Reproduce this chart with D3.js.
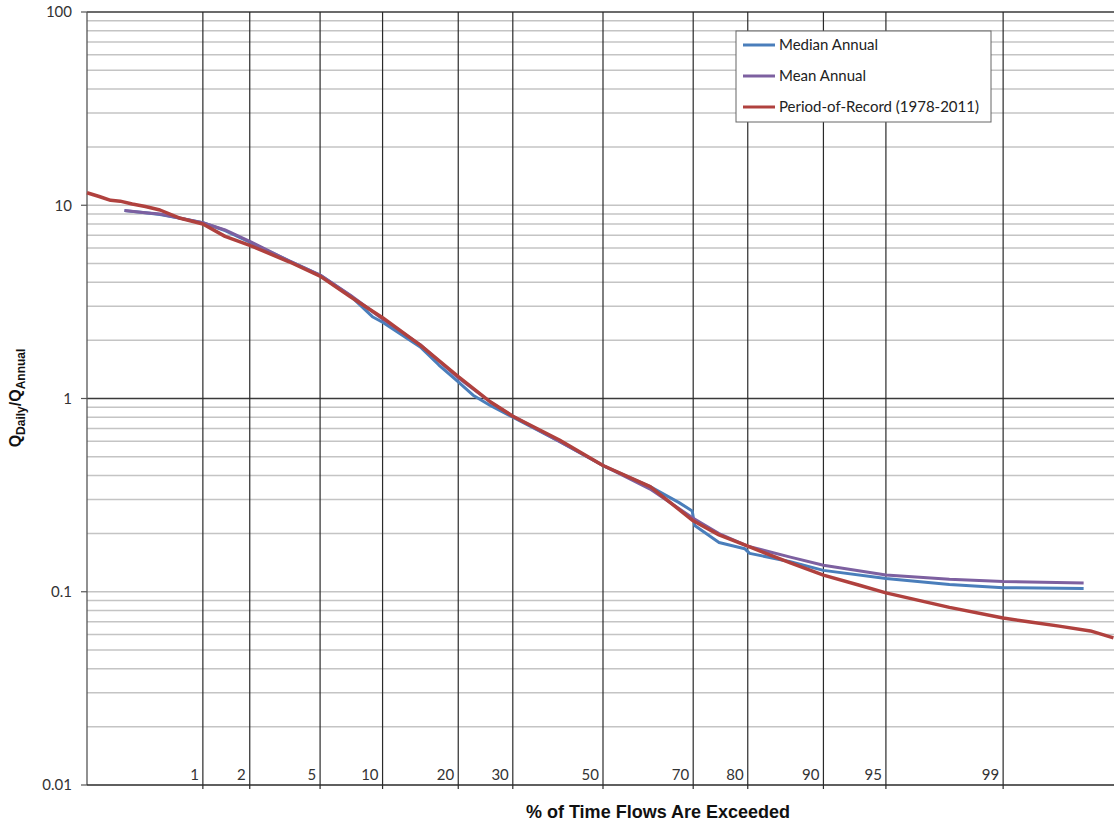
<!DOCTYPE html>
<html>
  <head>
    <meta charset="UTF-8">
    <title>Flow Duration Curve</title>
    <script src="https://d3js.org/d3.v7.min.js"></script>
    <style>
      body { margin: 0; background: #fff; }
      svg { display: block; }
      .tick-label { font-family: Lato, "Open Sans", sans-serif; font-size: 15px; fill: #333; }
      .legend-text { font-family: Lato, "Open Sans", sans-serif; font-size: 15px; fill: #222; }
      .axis-title { font-family: "Liberation Sans", Arial, sans-serif; font-weight: bold; fill: #111; }
    </style>
  </head>
  <body>
    <svg id="chart" width="1114" height="826"></svg>
    <script>
      // exceedance probability (%) and Q daily / Q annual
      const recordPct = [0.135, 0.17, 0.21, 0.25, 0.31, 0.39, 0.5, 0.7, 1, 1.4, 2, 3.4, 5, 7.1, 10, 14.4, 20, 25.6, 30, 40, 50, 60.8, 70, 75, 80, 86.2, 90, 93.2, 95, 97.8, 99, 99.35, 99.6, 99.77, 99.85];
      const recordVal = [11.6, 11.1, 10.6, 10.5, 10.15, 9.85, 9.45, 8.56, 8.0, 6.9, 6.2, 5.1, 4.3, 3.36, 2.62, 1.89, 1.30, 0.962, 0.81, 0.61, 0.45, 0.35, 0.233, 0.197, 0.172, 0.141, 0.122, 0.108, 0.0987, 0.083, 0.0731, 0.0697, 0.0664, 0.0627, 0.0577];

      const medianPct = [0.27, 0.39, 0.5, 0.7, 1, 1.4, 2, 3.4, 5, 7.1, 9, 10, 14.4, 17, 20, 22.5, 25.6, 30, 40, 50, 60.8, 67, 69.8, 70.3, 75, 79.5, 80.3, 86.2, 90, 95, 97.8, 99, 99.74];
      const medianVal = [9.38, 9.15, 8.95, 8.56, 8.12, 7.4, 6.45, 5.15, 4.35, 3.4, 2.65, 2.48, 1.85, 1.49, 1.22, 1.04, 0.92, 0.80, 0.60, 0.45, 0.35, 0.29, 0.262, 0.22, 0.18, 0.167, 0.158, 0.143, 0.129, 0.117, 0.109, 0.105, 0.104];

      const meanPct = [0.27, 0.39, 0.5, 0.7, 1, 1.4, 2, 3.4, 5, 7.1, 10, 14.4, 20, 25.6, 30, 40, 50, 60.8, 70, 75, 80, 86.2, 90, 95, 97.8, 99, 99.74];
      const meanVal = [9.4, 9.15, 9.0, 8.56, 8.12, 7.45, 6.5, 5.15, 4.35, 3.42, 2.58, 1.9, 1.28, 0.96, 0.81, 0.6, 0.45, 0.34, 0.24, 0.2, 0.172, 0.151, 0.137, 0.122, 0.116, 0.113, 0.111];

      const gridPct = [1, 2, 5, 10, 20, 30, 50, 70, 80, 90, 95, 99];
      const yTicks = [0.01, 0.1, 1, 10, 100];

      const seriesNames = ["Median Annual", "Mean Annual", "Period-of-Record (1978-2011)"];
      const seriesColors = ["#4a7ebb", "#7d60a0", "#b0413e"];

      // inverse normal CDF (Acklam) for the probability axis
      function probit(p) {
        const a = [-39.69683028665376, 220.9460984245205, -275.9285104469687, 138.3577518672690, -30.66479806614716, 2.506628277459239];
        const b = [-54.47609879822406, 161.5858368580409, -155.6989798598866, 66.80131188771972, -13.28068155288572];
        const c = [-0.007784894002430293, -0.3223964580411365, -2.400758277161838, -2.549732539343734, 4.374664141464968, 2.938163982698783];
        const d = [0.007784695709041462, 0.3224671290700398, 2.445134137142996, 3.754408661907416];
        const pl = 0.02425;
        let q, r;
        if (p < pl) {
          q = Math.sqrt(-2 * Math.log(p));
          return (((((c[0]*q+c[1])*q+c[2])*q+c[3])*q+c[4])*q+c[5]) / ((((d[0]*q+d[1])*q+d[2])*q+d[3])*q+1);
        } else if (p <= 1 - pl) {
          q = p - 0.5; r = q * q;
          return (((((a[0]*r+a[1])*r+a[2])*r+a[3])*r+a[4])*r+a[5])*q / (((((b[0]*r+b[1])*r+b[2])*r+b[3])*r+b[4])*r+1);
        }
        q = Math.sqrt(-2 * Math.log(1 - p));
        return -(((((c[0]*q+c[1])*q+c[2])*q+c[3])*q+c[4])*q+c[5]) / ((((d[0]*q+d[1])*q+d[2])*q+d[3])*q+1);
      }

      const plotLeft = 87, plotTop = 12, plotBottom = 785, plotRight = 1119;
      const z = d3.scaleLinear().domain([-3, 3]).range([plotLeft, plotRight]);
      const x = pct => z(probit(pct / 100));
      const y = d3.scaleLog().domain([0.01, 100]).range([plotBottom, plotTop]);

      const svg = d3.select("#chart");

      // minor horizontal grid
      const minor = [];
      for (let e = -2; e < 2; e++) {
        for (let m = 2; m <= 9; m++) minor.push(m * Math.pow(10, e));
      }
      minor.push(0.1, 10);
      svg.append("g").selectAll("line")
        .data(minor)
        .join("line")
        .attr("x1", plotLeft).attr("x2", 1114)
        .attr("y1", d => y(d)).attr("y2", d => y(d))
        .attr("stroke", "#c4c4c4")
        .attr("stroke-width", 1.5);

      // reference line at 1 and top border
      svg.append("g").selectAll("line")
        .data([1, 100])
        .join("line")
        .attr("x1", plotLeft).attr("x2", 1114)
        .attr("y1", d => y(d)).attr("y2", d => y(d))
        .attr("stroke", "#3a3a3a")
        .attr("stroke-width", 1.3);

      // vertical probability lines
      svg.append("g").selectAll("line")
        .data(gridPct)
        .join("line")
        .attr("x1", d => x(d)).attr("x2", d => x(d))
        .attr("y1", plotTop).attr("y2", plotBottom + 4)
        .attr("stroke", "#2a2a2a")
        .attr("stroke-width", 1.2);

      // axes lines
      svg.append("line")
        .attr("x1", plotLeft).attr("x2", plotLeft).attr("y1", plotTop).attr("y2", plotBottom)
        .attr("stroke", "#555").attr("stroke-width", 1.3);
      svg.append("line")
        .attr("x1", plotLeft).attr("x2", 1114).attr("y1", plotBottom).attr("y2", plotBottom)
        .attr("stroke", "#2a2a2a").attr("stroke-width", 1.3);

      // y ticks
      const yt = svg.append("g").selectAll("g")
        .data(yTicks)
        .join("g")
        .attr("transform", d => `translate(0,${y(d)})`);
      yt.append("line").attr("x1", plotLeft - 6).attr("x2", plotLeft)
        .attr("stroke", "#555").attr("stroke-width", 1.2);
      yt.append("text")
        .attr("class", "tick-label")
        .attr("x", plotLeft - 15).attr("dy", "0.35em")
        .attr("text-anchor", "end")
        .text(d => d);

      // x labels left of each line
      svg.append("g").selectAll("text")
        .data(gridPct)
        .join("text")
        .attr("class", "tick-label")
        .attr("x", d => x(d) - 4)
        .attr("y", 780)
        .attr("text-anchor", "end")
        .text(d => d);

      // curves
      const line = d3.line().x(d => x(d[0])).y(d => y(d[1]));
      const series = [
        d3.zip(medianPct, medianVal),
        d3.zip(meanPct, meanVal),
        d3.zip(recordPct, recordVal)
      ];
      svg.append("g").selectAll("path")
        .data(series)
        .join("path")
        .attr("d", line)
        .attr("fill", "none")
        .attr("stroke", (d, i) => seriesColors[i])
        .attr("stroke-width", (d, i) => i === 2 ? 3.5 : 3)
        .attr("stroke-linejoin", "round");

      // legend
      const lg = svg.append("g").attr("transform", "translate(736,31)");
      lg.append("rect")
        .attr("width", 255).attr("height", 91)
        .attr("fill", "#fff").attr("stroke", "#666").attr("stroke-width", 1);
      const li = lg.selectAll("g")
        .data(seriesNames)
        .join("g")
        .attr("transform", (d, i) => `translate(0,${14 + i * 31})`);
      li.append("line")
        .attr("x1", 7).attr("x2", 39)
        .attr("stroke", (d, i) => seriesColors[i])
        .attr("stroke-width", 3);
      li.append("text")
        .attr("class", "legend-text")
        .attr("x", 43).attr("dy", "0.35em")
        .text(d => d);

      // axis titles
      svg.append("text")
        .attr("class", "axis-title")
        .attr("x", 658).attr("y", 818)
        .attr("text-anchor", "middle")
        .style("font-size", "18px")
        .text("% of Time Flows Are Exceeded");

      const yTitle = svg.append("text")
        .attr("class", "axis-title")
        .attr("transform", "translate(21,398) rotate(-90)")
        .attr("text-anchor", "middle")
        .style("font-size", "16px");
      yTitle.append("tspan").text("Q");
      yTitle.append("tspan").attr("dy", 4).style("font-size", "12px").text("Daily");
      yTitle.append("tspan").attr("dy", -4).text("/Q");
      yTitle.append("tspan").attr("dy", 4).style("font-size", "12px").text("Annual");
    </script>
  </body>
</html>
